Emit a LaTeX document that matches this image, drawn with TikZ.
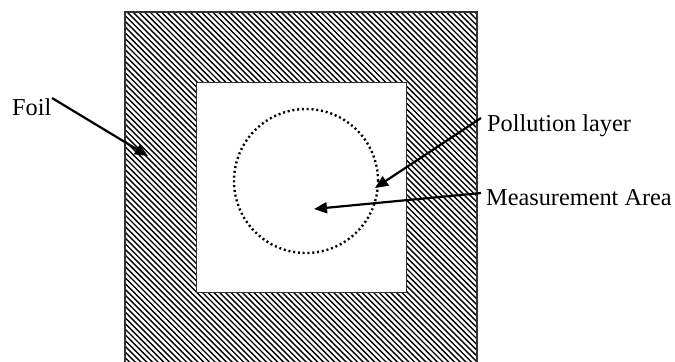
\documentclass[tikz,border=0pt]{standalone}
\usepackage{fontspec}
\setmainfont{Liberation Serif}
\usetikzlibrary{arrows.meta}
\begin{document}
\begin{tikzpicture}[x=1bp,y=-1bp,
  lbl/.style={inner sep=0pt,font=\fontsize{24.3bp}{29bp}\selectfont,anchor=base west},
  pointer/.style={line width=2.2bp,-{Triangle[length=13bp,width=11bp]}},
  hatch/.style={line width=1.4bp},
  frame/.style={line width=1.1bp,draw=black!80}]
\useasboundingbox (0,0) rectangle (675,361);
% hatched foil
\begin{scope}
  \clip (125,12) rectangle (477,364);
  \foreach \c in {-480,-474.3,...,260} {
    \draw[hatch] (100,100+\c) -- (500,500+\c);
  }
\end{scope}
\draw[frame] (125,364) -- (125,12) -- (477,12) -- (477,364);
% inner window
\node[frame,fill=white,minimum width=210bp,minimum height=210bp,inner sep=0pt,anchor=north west] (win) at (196,82) {};
% measurement area circle
\node[circle,draw,line width=2.4bp,dash pattern=on 2bp off 2.8bp,minimum size=144bp,inner sep=0pt] (area) at (306,181) {};
% labels
\node[lbl] (foil) at (12,115) {Foil};
\node[lbl] (poll) at (487,131) {Pollution layer};
\node[lbl] (meas) at (486,205) {Measurement Area};
\coordinate (foilstart) at (52,98);
\coordinate (foiltip) at (148,156);
\coordinate (pollstart) at (481,118);
\coordinate (polltip) at (375,188);
\coordinate (measstart) at (481,193);
\coordinate (meastip) at (314,209);
\draw[pointer] (foilstart) -- (foiltip);
\draw[pointer] (pollstart) -- (polltip);
\draw[pointer] (measstart) -- (meastip);
\end{tikzpicture}
\end{document}
